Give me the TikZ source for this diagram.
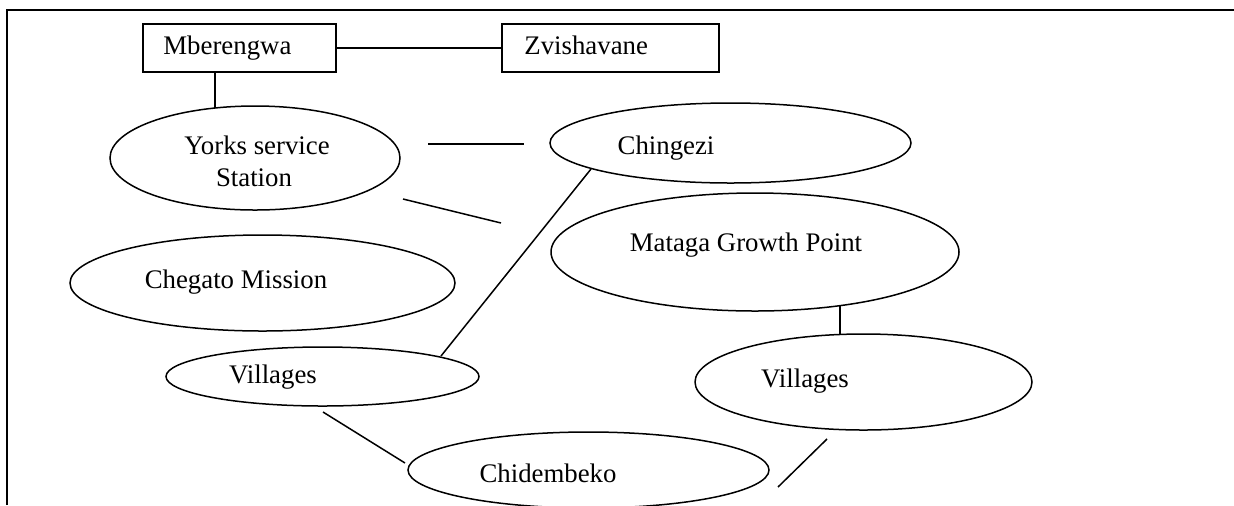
\documentclass[tikz,border=0pt]{standalone}
\usepackage{fontspec}
\setmainfont{Liberation Serif}
\usetikzlibrary{shapes.geometric}
\begin{document}
\begin{tikzpicture}[x=0.5pt,y=-0.5pt,
  frame/.style={line width=1.2pt},
  boxshape/.style={draw, line width=0.65pt, rectangle, inner sep=0pt},
  oval/.style={draw, line width=0.75pt, ellipse, inner sep=0pt, outer sep=0pt},
  lbl/.style={inner sep=0pt, font=\fontsize{13.4pt}{16pt}\selectfont},
  conn/.style={line width=0.75pt}]
\useasboundingbox (0,0) rectangle (1234,505);
% frame
\coordinate (fa) at (7,505);
\coordinate (fb) at (7,10);
\coordinate (fc) at (1234,10);
\draw[frame] (fa) -- (fb) -- (fc);
% boxes
\node[boxshape, minimum width=96.5pt, minimum height=24pt] (mber) at (239.5,48) {};
\node[boxshape, minimum width=108.5pt, minimum height=24pt] (zvis) at (610.5,48) {};
\node[lbl, anchor=base west] (mberT) at (163,54) {Mberengwa};
\node[lbl, anchor=base west] (zvisT) at (524,54) {Zvishavane};
% ellipses
\node[oval, minimum width=145pt, minimum height=52pt] (yorks) at (255,158) {};
\node[oval, minimum width=180.5pt, minimum height=40pt] (chingezi) at (730.5,143) {};
\node[oval, minimum width=204pt, minimum height=59pt] (mataga) at (755,252) {};
\node[oval, minimum width=192.5pt, minimum height=48pt] (chegato) at (262.5,283) {};
\node[oval, minimum width=156.5pt, minimum height=29.5pt] (villL) at (322.5,376.5) {};
\node[oval, minimum width=168.5pt, minimum height=48pt] (villR) at (863.5,382) {};
\node[oval, minimum width=180.5pt, minimum height=38pt] (chid) at (588.5,470) {};
% labels
\node[lbl, anchor=base] (yorksT1) at (257,154) {Yorks service};
\node[lbl, anchor=base] (yorksT2) at (254,186) {Station};
\node[lbl, anchor=base] (chingeziT) at (666,154) {Chingezi};
\node[lbl, anchor=base] (matagaT) at (746,251) {Mataga Growth Point};
\node[lbl, anchor=base] (chegatoT) at (236,288) {Chegato Mission};
\node[lbl, anchor=base] (villLT) at (273,383) {Villages};
\node[lbl, anchor=base] (villRT) at (805,387) {Villages};
\node[lbl, anchor=base] (chidT) at (548,482) {Chidembeko};
% connector ends
\coordinate (c2b) at (215,108);
\coordinate (c3a) at (428,144);
\coordinate (c3b) at (524,144);
\coordinate (c4a) at (403,199);
\coordinate (c4b) at (501,223);
\coordinate (c5a) at (591,169);
\coordinate (c5b) at (441,356);
\coordinate (c6a) at (323,412);
\coordinate (c6b) at (405,463);
\coordinate (c7a) at (840,306);
\coordinate (c7b) at (840,334.5);
\coordinate (c8a) at (827,439);
\coordinate (c8b) at (778,487);
% connectors
\draw[conn] (mber.east) -- (zvis.west);
\draw[conn] ([xshift=-12.25pt]mber.south) -- (c2b);
\draw[conn] (c3a) -- (c3b);
\draw[conn] (c4a) -- (c4b);
\draw[conn] (c5a) -- (c5b);
\draw[conn] (c6a) -- (c6b);
\draw[conn] (c7a) -- (c7b);
\draw[conn] (c8a) -- (c8b);
\end{tikzpicture}
\end{document}
